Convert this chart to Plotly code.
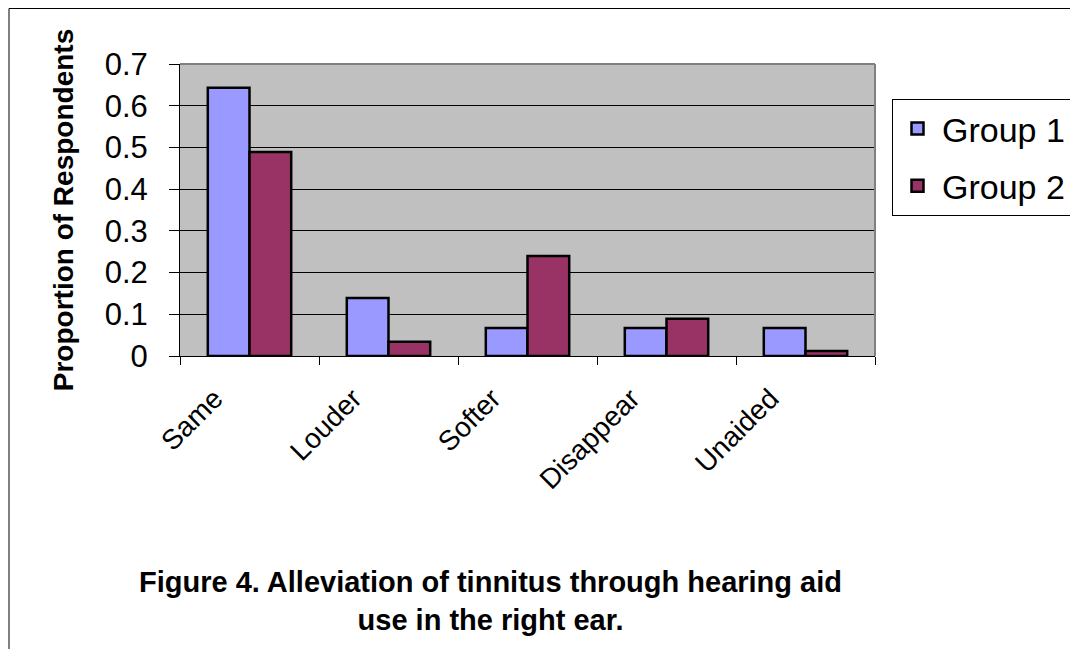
import plotly.graph_objects as go

categories = ["Same", "Louder", "Softer", "Disappear", "Unaided"]
group1 = [0.643, 0.139, 0.067, 0.067, 0.067]
group2 = [0.489, 0.034, 0.24, 0.089, 0.012]
series_names = ["Group 1", "Group 2"]
y_ticks = [0, 0.1, 0.2, 0.3, 0.4, 0.5, 0.6, 0.7]
y_tick_labels = ["0", "0.1", "0.2", "0.3", "0.4", "0.5", "0.6", "0.7"]
title_text = "Figure 4. Alleviation of tinnitus through hearing aid<br>use in the right ear."
y_title = "Proportion of Respondents"

FONT = "Liberation Sans, Arial, sans-serif"

fig = go.Figure()
fig.add_trace(go.Bar(
    x=categories, y=group1, name=series_names[0],
    marker=dict(color="#9999FF", line=dict(color="black", width=2.5)),
    legendgroup="g1",
))
fig.add_trace(go.Bar(
    x=categories, y=group2, name=series_names[1],
    marker=dict(color="#993366", line=dict(color="black", width=2.5)),
    legendgroup="g2",
))

# page body has an 8px default margin; figure coordinates = screen - 8
W, H = 1078, 649
L, T = 172, 56
pw, ph = 695, 292
R, B = W - L - pw, H - T - ph

def px_x(x):
    return (x - L) / pw

def px_y(y):
    return 1 - (y - T) / ph

fig.update_layout(
    width=W, height=H,
    margin=dict(l=L, r=R, t=T, b=B, autoexpand=False),
    paper_bgcolor="white",
    plot_bgcolor="#C0C0C0",
    barmode="group",
    bargap=0.4,
    bargroupgap=0,
    font=dict(family=FONT, color="black"),
    showlegend=True,
    legend=dict(
        x=px_x(884), y=px_y(91),
        xanchor="left", yanchor="top",
        bgcolor="white", bordercolor="black", borderwidth=1,
        font=dict(size=34, family=FONT, color="black"),
        traceorder="grouped", tracegroupgap=10,
        itemwidth=39,
    ),
    xaxis=dict(
        type="category",
        showline=True, linecolor="black", linewidth=1,
        ticks="outside", tickson="boundaries", ticklen=8, tickcolor="black",
        tickangle=-45,
        ticklabelshift=-35, ticklabelstandoff=14,
        tickfont=dict(size=28, family=FONT, color="black"),
        showgrid=False,
    ),
    yaxis=dict(
        range=[0, 0.7],
        tickvals=y_ticks, ticktext=y_tick_labels,
        showline=True, linecolor="black", linewidth=1,
        ticks="outside", ticklen=10, tickcolor="black",
        ticklabelstandoff=15,
        tickfont=dict(size=31, family=FONT, color="black"),
        showgrid=True, gridcolor="black", gridwidth=1,
        zeroline=False,
        title=dict(text="<b>" + y_title + "</b>", font=dict(size=28, family=FONT, color="black"), standoff=22),
    ),
    annotations=[dict(
        text="<b>" + title_text + "</b>",
        xref="paper", yref="paper",
        x=px_x(482), y=px_y(556),
        xanchor="center", yanchor="top",
        showarrow=False,
        font=dict(size=29, family=FONT, color="black"),
        align="center",
    )],
    shapes=[
        # outer chart frame
        dict(type="rect", xref="paper", yref="paper",
             x0=px_x(1), x1=3.0, y0=-3.0, y1=px_y(0.5),
             line=dict(color="black", width=1), fillcolor="rgba(0,0,0,0)", layer="above"),
        # plot-area gray border top and right
        dict(type="line", xref="paper", yref="paper", x0=0, x1=1, y0=1, y1=1,
             line=dict(color="#808080", width=2), layer="above"),
        dict(type="line", xref="paper", yref="paper", x0=1, x1=1, y0=0, y1=1,
             line=dict(color="#808080", width=2), layer="above"),
    ],
)

fig.write_html("out.html")
